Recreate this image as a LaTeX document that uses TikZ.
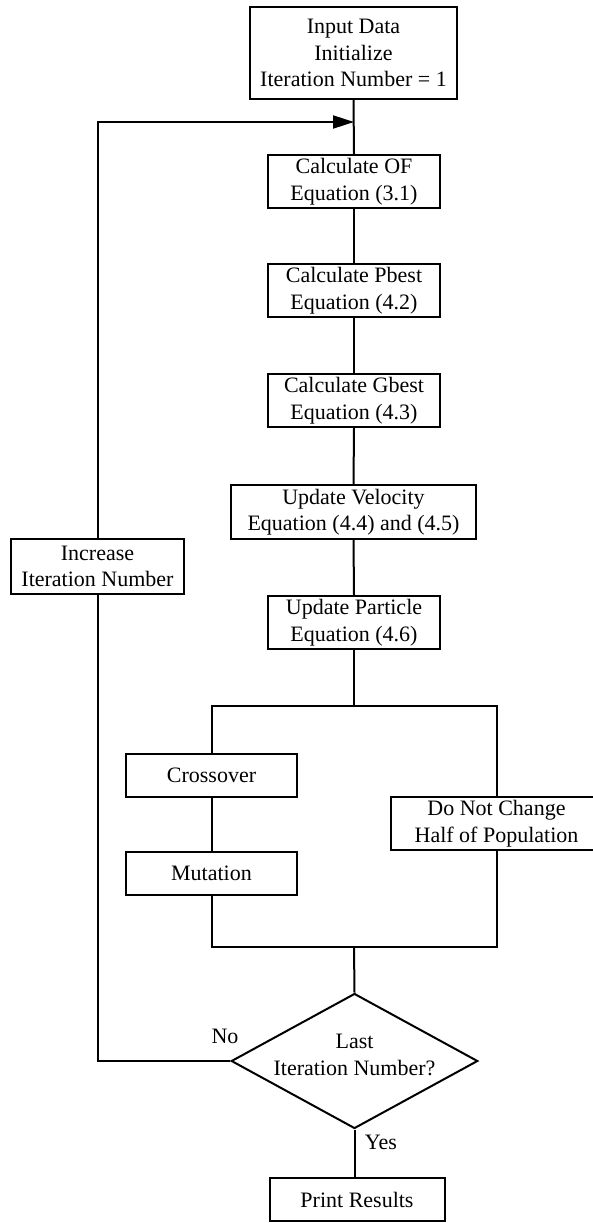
\documentclass[tikz,border=0pt]{standalone}
\usepackage{fontspec}
\setmainfont{Liberation Serif}
\usetikzlibrary{shapes.geometric,arrows.meta}
\begin{document}
\begin{tikzpicture}[x=1pt,y=-1pt,
  every node/.style={font=\fontsize{22}{26.5}\selectfont},
  box/.style={draw,line width=2pt,rectangle,align=center,inner sep=0pt},
  wire/.style={line width=2pt},
  decision/.style={draw,line width=2pt,diamond,inner sep=0pt,
    minimum width=246.5pt,minimum height=135pt},
  tag/.style={inner sep=0pt}]
\useasboundingbox (0,0) rectangle (592,1223);

% process column
\node[box,minimum width=207pt,minimum height=92pt] (init) at (353.5,53)
  {Input Data\\Initialize\\Iteration Number = 1};
\node[box,minimum width=172pt,minimum height=53pt] (of) at (354,181.5)
  {Calculate OF\\Equation (3.1)};
\node[box,minimum width=172pt,minimum height=53pt] (pbest) at (354,290.5)
  {Calculate Pbest\\Equation (4.2)};
\node[box,minimum width=172pt,minimum height=53pt] (gbest) at (354,400.5)
  {Calculate Gbest\\Equation (4.3)};
\node[box,minimum width=245pt,minimum height=54pt] (vel) at (353.5,512)
  {Update Velocity\\Equation (4.4) and (4.5)};
\node[box,minimum width=172pt,minimum height=53pt] (part) at (354,622.5)
  {Update Particle\\Equation (4.6)};
\node[box,minimum width=173pt,minimum height=55pt] (inc) at (97.5,566.5)
  {Increase\\Iteration Number};

% genetic operators
\node[box,minimum width=171pt,minimum height=43pt] (cross) at (211.5,775.5) {Crossover};
\node[box,minimum width=171pt,minimum height=43pt] (mut) at (211.5,873.5) {Mutation};
\node[box,minimum width=211pt,minimum height=53pt] (keep) at (496.5,823.5)
  {Do Not Change\\Half of Population};

% decision and output
\node[decision] (dec) at (354.5,1061) {};
\node[tag,align=center] (dectext) at (354.5,1055) {Last\\Iteration Number?};
\node[box,minimum width=175pt,minimum height=43.5pt] (print) at (357,1199.5) {Print Results};
\node[tag] (no) at (225,1036) {No};
\node[tag] (yes) at (381,1142) {Yes};

% junction points
\coordinate (entry) at (354,122);
\coordinate (split) at (354,706);
\coordinate (merge) at (354,947);

% connectors
\draw[wire] (init.south) -- (of.north);
\draw[wire] (of.south) -- (pbest.north);
\draw[wire] (pbest.south) -- (gbest.north);
\draw[wire] (gbest.south) -- (vel.north);
\draw[wire] (vel.south) -- (part.north);
\draw[wire] (part.south) -- (split);
\draw[wire] (cross.north) |- (split) -| (keep.north);
\draw[wire] (cross.south) -- (mut.north);
\draw[wire] (mut.south) |- (merge) -| (keep.south);
\draw[wire] (merge) -- (dec.north);
\draw[wire] (dec.south) -- (dec.south |- print.north);
\draw[wire] (dec.west) -| (inc.south);
\draw[wire,-{Triangle[length=21pt,width=13pt]}] (inc.north) |- (entry);
\end{tikzpicture}
\end{document}
